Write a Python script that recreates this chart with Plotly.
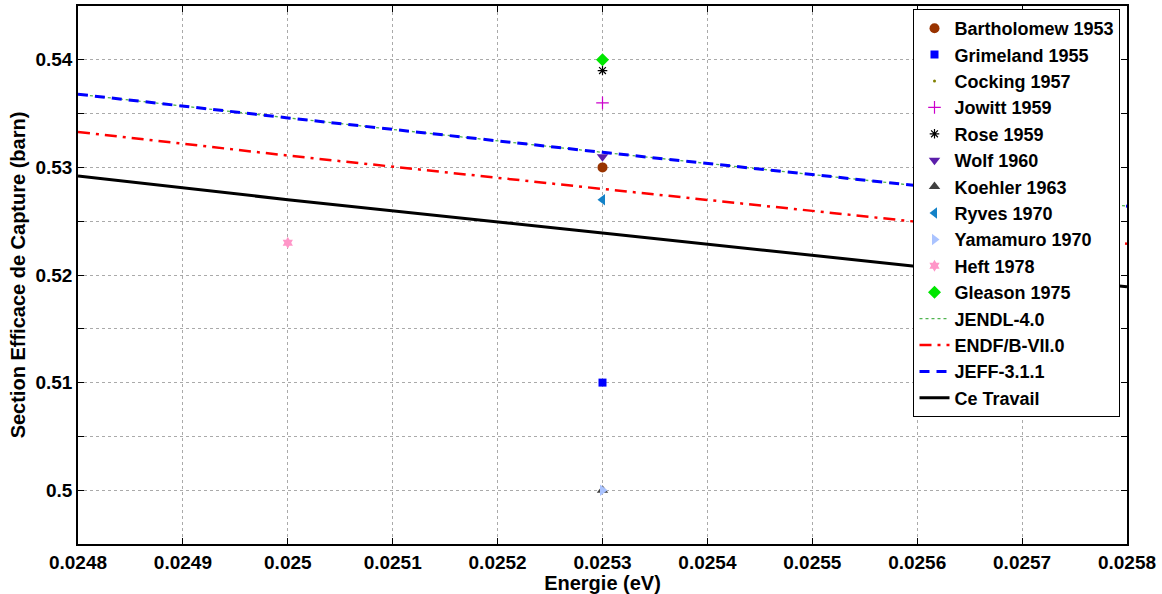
import plotly.graph_objects as go

# Experimental capture cross sections (energy in eV, sigma in barn)
bartholomew_x, bartholomew_y = [0.0253], [0.530]
grimeland_x, grimeland_y = [0.0253], [0.510]
cocking_x, cocking_y = [0.0253], [0.530]
jowitt_x, jowitt_y = [0.0253], [0.536]
rose_x, rose_y = [0.0253], [0.539]
wolf_x, wolf_y = [0.0253], [0.531]
koehler_x, koehler_y = [0.0253], [0.500]
ryves_x, ryves_y = [0.0253], [0.527]
yamamuro_x, yamamuro_y = [0.0253], [0.500]
heft_x, heft_y = [0.0250], [0.523]
gleason_x, gleason_y = [0.0253], [0.540]

# Evaluated libraries and this work
energy_grid = [0.0248, 0.0250, 0.0253, 0.0256, 0.0258]
jendl_y = [0.5368, 0.5346, 0.5314, 0.5283, 0.5264]
endf_y = [0.5333, 0.5311, 0.5280, 0.5249, 0.5229]
jeff_y = [0.5368, 0.5346, 0.5314, 0.5283, 0.5264]
travail_y = [0.5292, 0.5270, 0.5239, 0.5208, 0.5189]

# Axis ticks
x_tickvals = [0.0248, 0.0249, 0.0250, 0.0251, 0.0252, 0.0253, 0.0254, 0.0255, 0.0256, 0.0257, 0.0258]
x_ticktext = ["0.0248", "0.0249", "0.025", "0.0251", "0.0252", "0.0253", "0.0254", "0.0255", "0.0256", "0.0257", "0.0258"]
y_tickvals = [0.500, 0.505, 0.510, 0.515, 0.520, 0.525, 0.530, 0.535, 0.540]
y_ticktext = ["0.5", "", "0.51", "", "0.52", "", "0.53", "", "0.54"]

FONT = "Liberation Sans, Arial, sans-serif"

fig = go.Figure()

# Tiny Cocking dot is drawn first so the larger markers sit above it
fig.add_trace(go.Scatter(x=cocking_x, y=cocking_y, mode="markers", name="Cocking 1957", legendrank=3,
                         marker=dict(symbol="circle", size=3, color="rgb(128,128,0)")))
fig.add_trace(go.Scatter(x=bartholomew_x, y=bartholomew_y, mode="markers", name="Bartholomew 1953", legendrank=1,
                         marker=dict(symbol="circle", size=10, color="rgb(153,51,0)")))
fig.add_trace(go.Scatter(x=grimeland_x, y=grimeland_y, mode="markers", name="Grimeland 1955", legendrank=2,
                         marker=dict(symbol="square", size=8, color="rgb(0,0,255)")))
fig.add_trace(go.Scatter(x=jowitt_x, y=jowitt_y, mode="markers", name="Jowitt 1959", legendrank=4,
                         marker=dict(symbol="cross-thin-open", size=9, color="rgb(204,0,204)",
                                     line=dict(width=1.2, color="rgb(204,0,204)"))))
fig.add_trace(go.Scatter(x=rose_x, y=rose_y, mode="markers", name="Rose 1959", legendrank=5,
                         marker=dict(symbol="asterisk-open", size=8, color="black",
                                     line=dict(width=1.2, color="black"))))
fig.add_trace(go.Scatter(x=wolf_x, y=wolf_y, mode="markers", name="Wolf 1960", legendrank=6,
                         marker=dict(symbol="triangle-down", size=10, color="rgb(91,30,170)")))
fig.add_trace(go.Scatter(x=koehler_x, y=koehler_y, mode="markers", name="Koehler 1963", legendrank=7,
                         marker=dict(symbol="triangle-up", size=10, color="rgb(64,64,64)")))
fig.add_trace(go.Scatter(x=ryves_x, y=ryves_y, mode="markers", name="Ryves 1970", legendrank=8,
                         marker=dict(symbol="triangle-left", size=10, color="rgb(20,130,200)")))
fig.add_trace(go.Scatter(x=yamamuro_x, y=yamamuro_y, mode="markers", name="Yamamuro 1970", legendrank=9,
                         marker=dict(symbol="triangle-right", size=10, color="rgb(170,195,255)")))
fig.add_trace(go.Scatter(x=heft_x, y=heft_y, mode="markers", name="Heft 1978", legendrank=10,
                         marker=dict(symbol="hexagram", size=9, color="rgb(255,150,200)")))
fig.add_trace(go.Scatter(x=gleason_x, y=gleason_y, mode="markers", name="Gleason 1975", legendrank=11,
                         marker=dict(symbol="diamond", size=10, color="rgb(0,230,0)")))

fig.add_trace(go.Scatter(x=energy_grid, y=jendl_y, mode="lines", name="JENDL-4.0", legendrank=12,
                         line=dict(color="rgb(80,180,80)", width=1.3, dash="dot")))
fig.add_trace(go.Scatter(x=energy_grid, y=endf_y, mode="lines", name="ENDF/B-VII.0", legendrank=13,
                         line=dict(color="rgb(255,0,0)", width=2.5, dash="12px,6px,3px,6px")))
fig.add_trace(go.Scatter(x=energy_grid, y=jeff_y, mode="lines", name="JEFF-3.1.1", legendrank=14,
                         line=dict(color="rgb(0,0,255)", width=3, dash="10px,7px")))
fig.add_trace(go.Scatter(x=energy_grid, y=travail_y, mode="lines", name="Ce Travail", legendrank=15,
                         line=dict(color="black", width=3)))

axis_common = dict(
    showline=True, linecolor="black", linewidth=1.5, mirror="ticks",
    ticks="inside", ticklen=6, tickwidth=1, tickcolor="black",
    showgrid=True, gridcolor="rgb(170,170,170)", gridwidth=1, griddash="dot",
    zeroline=False,
    tickfont=dict(family=FONT, size=19, color="black", weight="bold"),
)

fig.update_xaxes(range=[0.0248, 0.0258], tickmode="array", tickvals=x_tickvals, ticktext=x_ticktext,
                 title=dict(text="Energie (eV)", font=dict(family=FONT, size=20, color="black", weight="bold"),
                            standoff=1),
                 **axis_common)
fig.update_yaxes(range=[0.495, 0.545], tickmode="array", tickvals=y_tickvals, ticktext=y_ticktext,
                 title=dict(text="Section Efficace de Capture (barn)",
                            font=dict(family=FONT, size=20, color="black", weight="bold"), standoff=4),
                 **axis_common)

fig.update_layout(
    width=1162, height=594,
    margin=dict(l=78, r=35, t=4, b=50),
    plot_bgcolor="white", paper_bgcolor="white",
    font=dict(family=FONT, color="black"),
    legend=dict(
        x=0.9938, y=0.9944, xanchor="right", yanchor="top",
        bgcolor="white", bordercolor="black", borderwidth=1,
        font=dict(family=FONT, size=18, color="black", weight="bold"),
        tracegroupgap=0, itemwidth=30,
    ),
)

fig.write_html("out.html")
